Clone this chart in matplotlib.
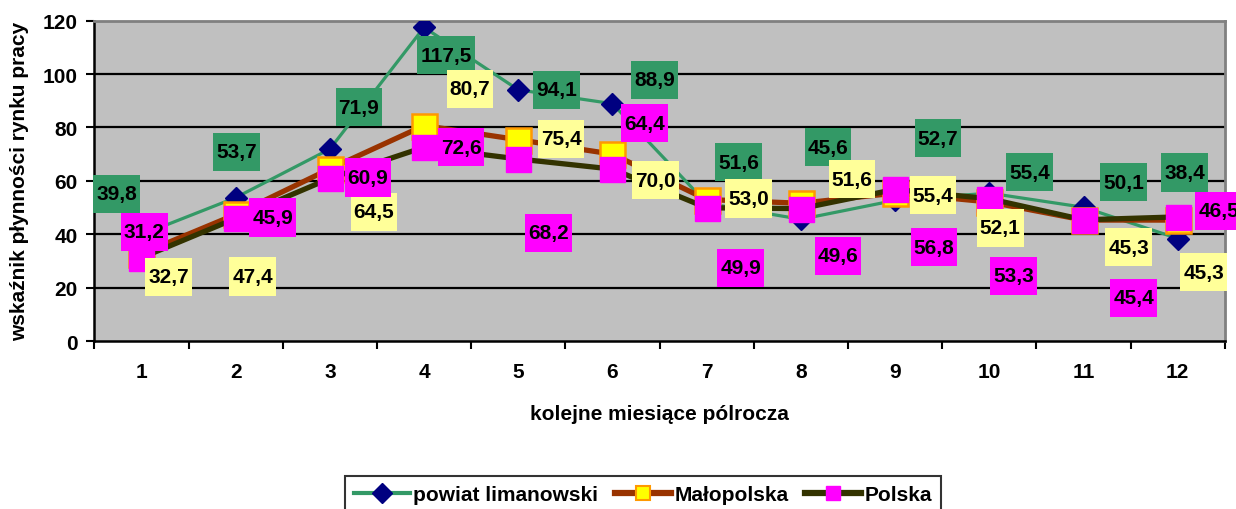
import numpy as np
import matplotlib
matplotlib.use("Agg")
import matplotlib.pyplot as plt
from matplotlib.lines import Line2D
from matplotlib.path import Path

plt.rcParams['font.family'] = ['Liberation Sans', 'DejaVu Sans']
plt.rcParams['font.weight'] = 'bold'

# --- dane ---
miesiace = [1, 2, 3, 4, 5, 6, 7, 8, 9, 10, 11, 12]
powiat = [39.8, 53.7, 71.9, 117.5, 94.1, 88.9, 51.6, 45.6, 52.7, 55.4, 50.1, 38.4]
malopolska = [32.7, 47.4, 64.5, 80.7, 75.4, 70.0, 53.0, 51.6, 55.4, 52.1, 45.3, 45.3]
polska = [31.2, 45.9, 60.9, 72.6, 68.2, 64.4, 49.9, 49.6, 56.8, 53.3, 45.4, 46.5]
serie_nazwy = ['powiat limanowski', 'Małopolska', 'Polska']

# przesunięcia etykiet (piksele), tak jak przeciągnięte w Excelu
off_powiat = [(-25, 41), (1, 46), (29, 42), (22, -28), (38, 0), (42, 24),
              (32, 41), (27, 72), (43, 62), (40, 21), (40, 25), (7, 66)]
off_malo = [(27, -23), (17, -62), (44, -43), (46, 37), (43, 1), (43, -26),
            (42, 1), (51, 24), (38, -2), (11, -26), (45, -27), (26, -52)]
off_polska = [(3, 26), (37, 1), (38, 1), (37, 0), (30, -74), (32, 46),
              (34, -60), (37, -47), (39, -58), (24, -77), (50, -78), (41, 6)]


def pudelko(x0, y0, width, height, mutation_size):
    # prostokąt z większym marginesem w pionie niż w poziomie
    px = 0.14 * mutation_size
    py = 0.46 * mutation_size
    return Path([(x0 - px, y0 - py), (x0 + width + px, y0 - py),
                 (x0 + width + px, y0 + height + py), (x0 - px, y0 + height + py),
                 (x0 - px, y0 - py)], closed=True)


fig = plt.figure(figsize=(12.36, 5.10), dpi=100)
ax = fig.add_axes([0.0763, 0.3294, 0.9147, 0.6281])
ax.set_facecolor('#C0C0C0')

x = np.array(miesiace)
ax.plot(x, powiat, color='#339966', lw=2.3, marker='D', ms=11,
        mfc='#000080', mec='#000080', zorder=3)
ax.plot(x, malopolska, color='#993300', lw=3.8, marker='s', ms=18,
        mfc='#FFFF00', mec='#FF9900', mew=1.8, zorder=4)
ax.plot(x, polska, color='#333300', lw=3.8, marker='s', ms=18,
        mfc='#FF00FF', mec='#FF00FF', zorder=5)

def etykiety(vals, offs, kolor):
    for xi, v, (dx, dy) in zip(x, vals, offs):
        ax.annotate(f"{v:.1f}".replace('.', ','), (xi, v), xytext=(dx, dy),
                    textcoords='offset pixels', ha='center', va='center',
                    fontsize=15, fontweight='bold', color='black', zorder=10,
                    annotation_clip=False,
                    bbox=dict(boxstyle=pudelko, fc=kolor, ec='none'))

etykiety(powiat, off_powiat, '#339966')
etykiety(malopolska, off_malo, '#FFFF99')
etykiety(polska, off_polska, '#FF00FF')

ax.set_xlim(0.5, 12.5)
ax.set_ylim(0, 120)
ax.set_yticks(range(0, 121, 20))
ax.set_xticks(x)
ax.set_xticks(np.arange(0.5, 12.6, 1), minor=True)
ax.tick_params(axis='x', which='major', length=0, pad=15, labelsize=15)
ax.tick_params(axis='x', which='minor', length=6, width=1.5, direction='out')
ax.tick_params(axis='y', length=6, width=1.5, direction='out', labelsize=15, pad=6)
for t in ax.get_xticklabels() + ax.get_yticklabels():
    t.set_fontweight('bold')

for yv in range(20, 101, 20):
    ax.axhline(yv, color='black', lw=1.6, zorder=1)

ax.spines['left'].set_linewidth(1.8)
ax.spines['bottom'].set_linewidth(1.8)
ax.spines['top'].set_color('#808080')
ax.spines['right'].set_color('#808080')
ax.spines['top'].set_linewidth(2)
ax.spines['right'].set_linewidth(2)

ax.set_xlabel('kolejne miesiące pólrocza', fontsize=15, fontweight='bold', labelpad=17)
ax.set_ylabel('wskaźnik płynności rynku pracy', fontsize=15, fontweight='bold', labelpad=10)

uchwyty = [
    Line2D([], [], color='#339966', lw=3, marker='D', ms=10, mfc='#000080', mec='#000080'),
    Line2D([], [], color='#993300', lw=4.5, marker='s', ms=10, mfc='#FFFF00', mec='#FF9900', mew=1.5),
    Line2D([], [], color='#333300', lw=4.5, marker='s', ms=10, mfc='#FF00FF', mec='#FF00FF'),
]
leg = fig.legend(uchwyty, serie_nazwy, loc='upper center', ncol=3,
                 bbox_to_anchor=(643 / 1236, 1 - 477 / 510), borderaxespad=0,
                 prop={'size': 15, 'weight': 'bold'}, frameon=True, fancybox=False,
                 edgecolor='black', handlelength=2.7, handletextpad=0.15,
                 columnspacing=0.8, borderpad=0.45)
leg.get_frame().set_linewidth(1.5)

fig.savefig('out.png', dpi=100)
